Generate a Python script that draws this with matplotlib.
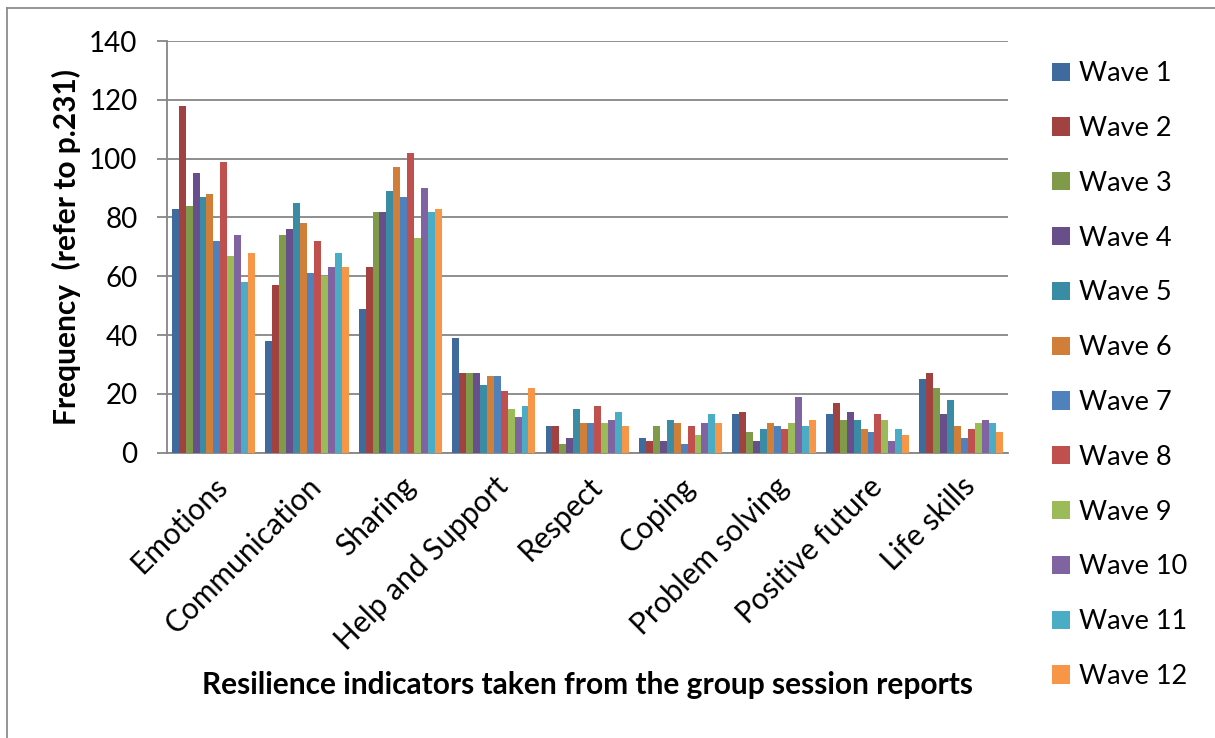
import matplotlib
matplotlib.use("Agg")
import matplotlib.pyplot as plt
from matplotlib.lines import Line2D
from matplotlib.patches import Patch
import numpy as np

plt.rcParams['font.family'] = ['Lato', 'DejaVu Sans']

categories = ["Emotions", "Communication", "Sharing", "Help and Support", "Respect",
              "Coping", "Problem solving", "Positive future", "Life skills"]
waves = ["Wave %d" % k for k in range(1, 13)]

# one list per category, 12 waves each
emotions = [83, 118, 84, 95, 87, 88, 72, 99, 67, 74, 58, 68]
communication = [38, 57, 74, 76, 85, 78, 61, 72, 60, 63, 68, 63]
sharing = [49, 63, 82, 82, 89, 97, 87, 102, 73, 90, 82, 83]
help_support = [39, 27, 27, 27, 23, 26, 26, 21, 15, 12, 16, 22]
respect = [9, 9, 3, 5, 15, 10, 10, 16, 10, 11, 14, 9]
coping = [5, 4, 9, 4, 11, 10, 3, 9, 6, 10, 13, 10]
problem_solving = [13, 14, 7, 4, 8, 10, 9, 8, 10, 19, 9, 11]
positive_future = [13, 17, 11, 14, 11, 8, 7, 13, 11, 4, 8, 6]
life_skills = [25, 27, 22, 13, 18, 9, 5, 8, 10, 11, 10, 7]

values = np.array([emotions, communication, sharing, help_support, respect,
                   coping, problem_solving, positive_future, life_skills])

colors = ['#3F6A9E', '#A14240', '#7F9A48', '#684E8A', '#3A8CA5', '#D07E38',
          '#4F81BD', '#C0504D', '#9BBB59', '#8064A2', '#4BACC6', '#F79646']

fig = plt.figure(figsize=(12.15, 7.38), dpi=100)
ax = fig.add_axes([0.1372, 0.3866, 0.6922, 0.5578])

x = np.arange(len(categories))
w = 0.0743
for j in range(len(waves)):
    ax.bar(x + (j - 5.5) * w, values[:, j], width=w, color=colors[j],
           label=waves[j], zorder=3)

ax.set_xlim(-0.5, len(categories) - 0.5)
ax.set_ylim(0, 140)
ax.set_yticks(range(0, 141, 20))
ax.yaxis.grid(True, color='#868686', linewidth=1.3, zorder=0)
ax.set_axisbelow(True)

for s in ['top', 'right']:
    ax.spines[s].set_visible(False)
for s in ['left', 'bottom']:
    ax.spines[s].set_color('#868686')
    ax.spines[s].set_linewidth(1.3)

ax.tick_params(axis='y', direction='out', length=7, width=1.3, color='#868686',
               labelsize=20, pad=14)
ax.tick_params(axis='x', length=0, labelsize=21.5, pad=14)
ax.set_xticks(x)
ax.set_xticklabels(categories, rotation=45, ha='right', rotation_mode='anchor')

ax.set_ylabel("Frequency  (refer to p.231)", fontsize=21.5, fontweight='bold', labelpad=6)
ax.set_xlabel("Resilience indicators taken from the group session reports",
              fontsize=21.5, fontweight='bold')
ax.xaxis.set_label_coords(0.5, -0.53)

handles = [Patch(facecolor=colors[j], label=waves[j]) for j in range(len(waves))]
fig.legend(handles=handles, loc='upper left', bbox_to_anchor=(0.866, 0.917),
           frameon=False, fontsize=19.5, labelspacing=1.1, handlelength=0.66,
           handleheight=0.66, handletextpad=0.32, borderpad=0, borderaxespad=0)

# chart area border
fig.add_artist(Line2D([7 / 1215, 7 / 1215], [0, 1 - 8 / 738], color='#8c8c8c',
                      linewidth=1.3, transform=fig.transFigure))
fig.add_artist(Line2D([7 / 1215, 1], [1 - 8 / 738, 1 - 8 / 738], color='#8c8c8c',
                      linewidth=1.3, transform=fig.transFigure))

fig.savefig("out.png", dpi=100)
